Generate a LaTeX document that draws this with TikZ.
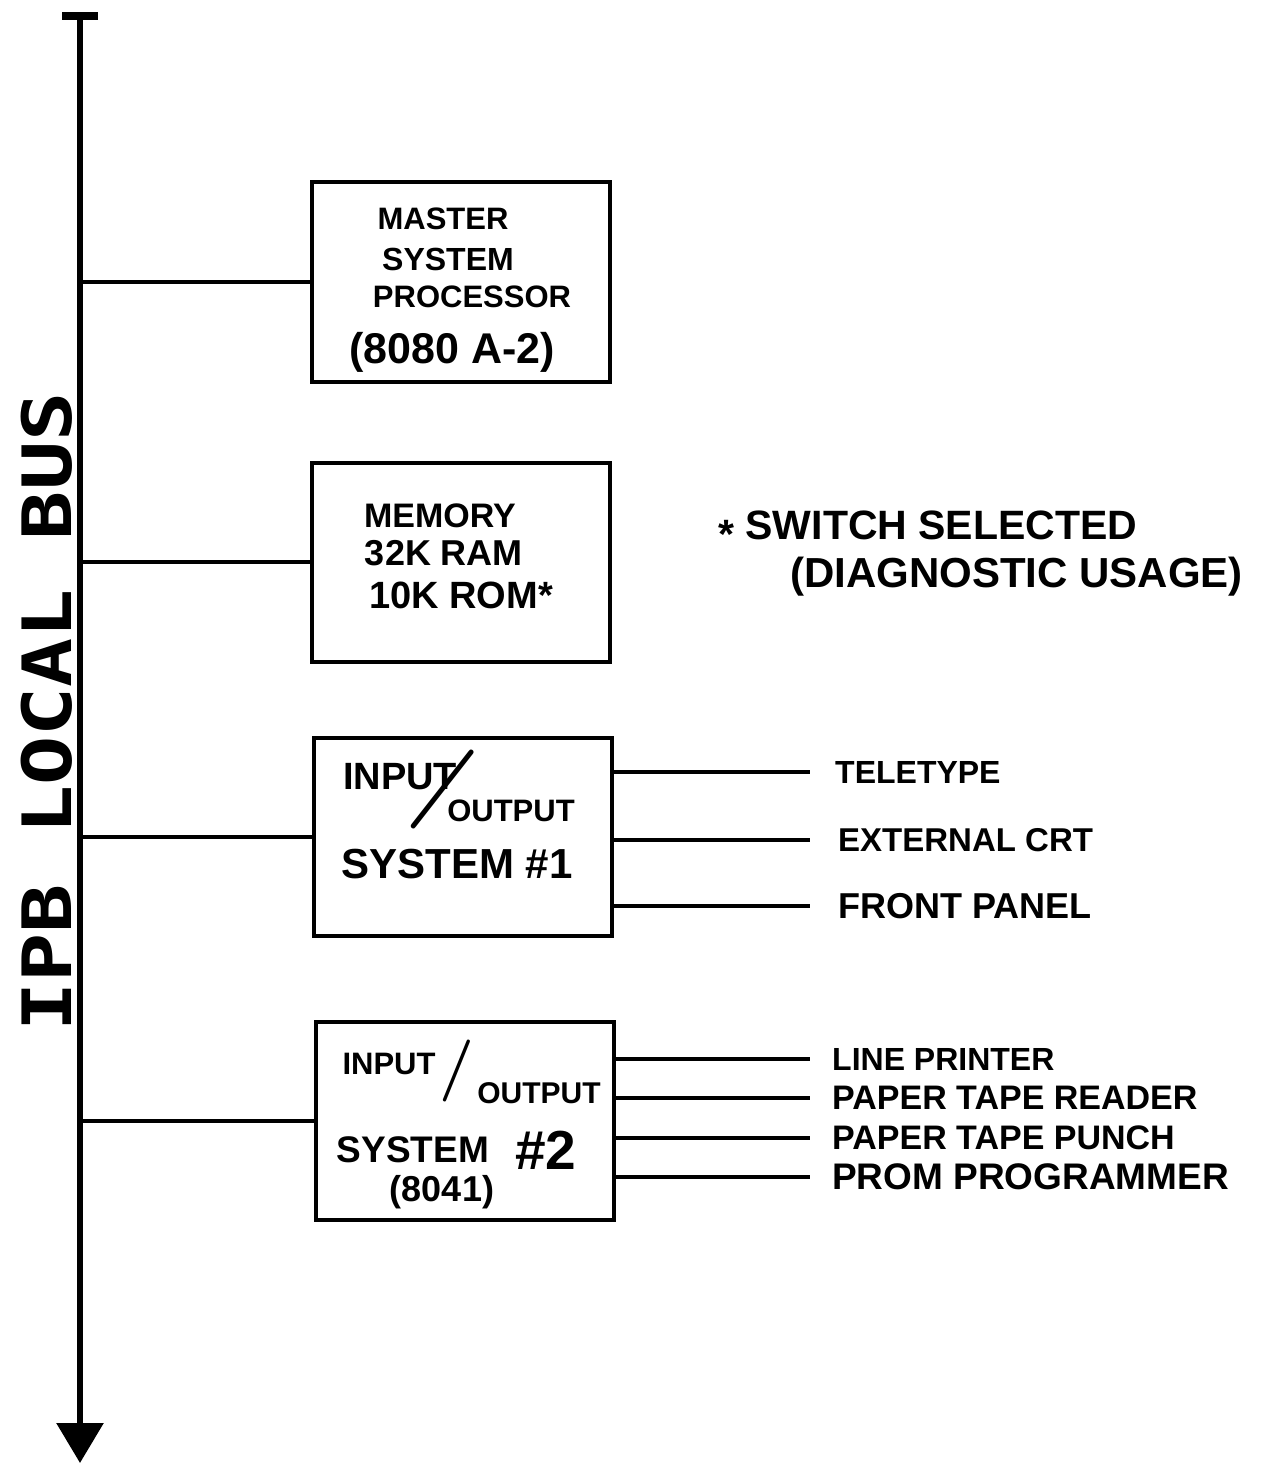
\documentclass[tikz,border=0pt]{standalone}
\usepackage{fontspec}
\setmainfont{Liberation Sans}
\newfontfamily\busfont{DejaVu Sans Mono}
\newfontfamily\slashfont{Latin Modern Roman}
\usetikzlibrary{arrows.meta}
\newcommand\fsz[1]{\fontsize{#1pt}{#1pt}\selectfont}
\begin{document}
\begin{tikzpicture}[x=1pt,y=-1pt,
  box/.style={draw, line width=4pt, minimum width=298pt, minimum height=198pt, inner sep=0pt},
  wire/.style={line width=4pt},
  txt/.style={inner sep=0pt, font=\bfseries},
  slash/.style={inner sep=0pt, font=\slashfont\bfseries},
  lab/.style={anchor=west, inner xsep=24pt, inner ysep=0pt, font=\bfseries}]
\useasboundingbox (0,0) rectangle (1279,1465);
\fill[white] (0,0) rectangle (1279,1465);

% bus
\coordinate (bustop) at (80,12);
\coordinate (busend) at (80,1463);
\draw[line width=6pt, {Bar[width=36pt,line width=8pt]}-{Triangle[width=46pt,length=40pt]}] (bustop) -- (busend);
\node[rotate=90, inner sep=0pt] (buslabel) at (47,712) {\busfont\bfseries\fsz{68}\scalebox{1.2}[1]{IPB LOCAL BUS}};

% boxes
\node[box, minimum height=200pt] (b1) at (461,282) {};
\node[box, minimum height=199pt] (b2) at (461,562) {};
\node[box] (b3) at (463,837) {};
\node[box] (b4) at (465,1121) {};

\draw[wire] (bustop |- b1.west) -- (b1.west);
\draw[wire] (bustop |- b2.west) -- (b2.west);
\draw[wire] (bustop |- b3.west) -- (b3.west);
\draw[wire] (bustop |- b4.west) -- (b4.west);

% box 1 text
\node[txt] (m1) at (443,219) {\fsz{31}MASTER};
\node[txt] (m2) at (448,259) {\fsz{32}SYSTEM};
\node[txt] (m3) at (472,297) {\fsz{31}PROCESSOR};
\node[txt] (m4) at (452,352) {\fsz{43}(8080 A-2)};

% box 2 text
\node[txt] (r1) at (440,516) {\fsz{34}MEMORY};
\node[txt] (r2) at (444,553) {\fsz{36}32K RAM};
\node[txt] (r3) at (461,595) {\fsz{38}10K ROM*};

% box 3 text
\node[txt] (i1) at (400,777) {\fsz{38}INPUT};
\node[slash, rotate=-16] (i1s) at (443,790) {\fsz{92}/};
\node[txt] (o1) at (511,811) {\fsz{31}OUTPUT};
\node[txt] (s1) at (457,864) {\fsz{42}SYSTEM \#1};

% box 4 text
\node[txt] (i2) at (389,1064) {\fsz{31}INPUT};
\node[slash] (i2s) at (457,1071) {\fsz{62}/};
\node[txt] (o2) at (539,1093) {\fsz{30}OUTPUT};
\node[txt] (s2) at (413,1150) {\fsz{37}SYSTEM};
\node[txt] (n2) at (546,1150) {\fsz{55}\#2};
\node[txt] (c2) at (442,1192) {\fsz{36}(8041)};

% box 3 outputs
\node[lab, inner xsep=25pt] (tty) at (810,772) {\fsz{32}TELETYPE};
\node[lab, inner xsep=28pt] (crt) at (810,840) {\fsz{33}EXTERNAL CRT};
\node[lab, inner xsep=28pt] (fp) at (810,906) {\fsz{36}FRONT PANEL};
\draw[wire] (b3.east |- tty.west) -- (tty.west);
\draw[wire] (b3.east |- crt.west) -- (crt.west);
\draw[wire] (b3.east |- fp.west) -- (fp.west);

% box 4 outputs
\node[lab, inner xsep=22pt] (lp) at (810,1059) {\fsz{32}LINE PRINTER};
\node[lab, inner xsep=22pt] (ptr) at (810,1098) {\fsz{34}PAPER TAPE READER};
\node[lab, inner xsep=22pt] (ptp) at (810,1138) {\fsz{34}PAPER TAPE PUNCH};
\node[lab, inner xsep=22pt] (pp) at (810,1177) {\fsz{37}PROM PROGRAMMER};
\draw[wire] (b4.east |- lp.west) -- (lp.west);
\draw[wire] (b4.east |- ptr.west) -- (ptr.west);
\draw[wire] (b4.east |- ptp.west) -- (ptp.west);
\draw[wire] (b4.east |- pp.west) -- (pp.west);

% note
\node[txt, anchor=west] (note1) at (718,530) {\fsz{41}\raisebox{-9pt}{*} SWITCH SELECTED};
\node[txt, anchor=west] (note2) at (790,577) {\fsz{42}(DIAGNOSTIC USAGE)};
\end{tikzpicture}
\end{document}
